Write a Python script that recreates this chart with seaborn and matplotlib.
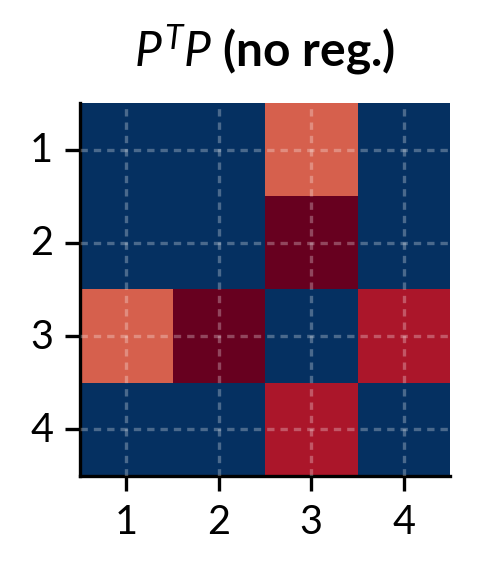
import numpy as np
import pandas as pd
import seaborn as sns
import matplotlib
matplotlib.use("Agg")
import matplotlib.pyplot as plt

labels = ["1", "2", "3", "4"]
row1 = [0.0, 0.0, 0.8, 0.0]
row2 = [0.0, 0.0, 1.0, 0.0]
row3 = [0.8, 1.0, 0.0, 0.91]
row4 = [0.0, 0.0, 0.91, 0.0]

data = pd.DataFrame([row1, row2, row3, row4], index=labels, columns=labels)

sns.set_style("ticks")
plt.rcParams["font.family"] = ["Lato", "DejaVu Sans"]
plt.rcParams["mathtext.fontset"] = "custom"
plt.rcParams["mathtext.it"] = "Lato:italic"
plt.rcParams["mathtext.rm"] = "Lato"
plt.rcParams["text.color"] = "black"
plt.rcParams["xtick.color"] = "black"
plt.rcParams["ytick.color"] = "black"

fig = plt.figure(figsize=(1.6, 1.9133), dpi=300)
ax = fig.add_axes([0.167, 0.169, 0.7705, 0.65])

sns.heatmap(data, cmap="RdBu_r", vmin=0, vmax=1, cbar=False, ax=ax)

ax.set_axisbelow(False)
ax.grid(True, color="white", alpha=0.28, linestyle=(0, (2.2, 1.8)), linewidth=0.8)
ax.tick_params(axis="both", labelsize=9.5, length=3.5, width=0.8, pad=3,
               colors="black", rotation=0)
for s in ["left", "bottom"]:
    ax.spines[s].set_visible(True)
    ax.spines[s].set_linewidth(0.8)
    ax.spines[s].set_color("black")
ax.set_xlabel("")
ax.set_ylabel("")
ax.set_title(r"$P^TP$ (no reg.)", fontsize=11.5, fontweight="bold", pad=9, color="black")

fig.savefig("out.png", dpi=300)
